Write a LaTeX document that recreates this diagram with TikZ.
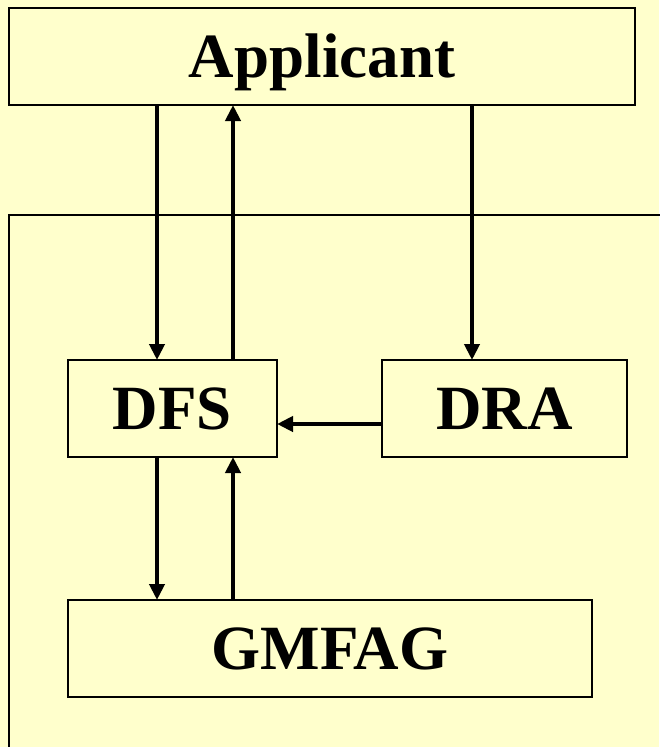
\documentclass[tikz,border=0pt]{standalone}
\usepackage{fontspec}
\setmainfont{Liberation Serif}
\usetikzlibrary{arrows.meta}
\definecolor{bg}{HTML}{FFFFCC}
\begin{document}
\begin{tikzpicture}[x=1pt,y=-1pt,
  box/.style={draw=black,line width=2pt,fill=bg,rectangle,inner sep=0pt,outer sep=0pt,
    text height=41.7pt,text depth=0pt,
    font=\fontsize{63}{70}\selectfont\bfseries},
  arr/.style={line width=4pt,-{Triangle[width=15pt,length=16pt]}}]
\fill[bg] (0,0) rectangle (659,747);
\useasboundingbox (0,0) rectangle (659,747);
% container
\coordinate (cb) at (9,748);
\coordinate (ctl) at (9,215);
\coordinate (ctr) at (660,215);
\draw[line width=2pt] (cb) -- (ctl) -- (ctr);
% boxes
\node[box,minimum width=626pt,minimum height=97pt] (app) at (322,56.5) {Applicant};
\node[box,minimum width=209pt,minimum height=97pt] (dfs) at (172.5,408.5) {DFS};
\node[box,minimum width=245pt,minimum height=97pt] (dra) at (504.5,408.5) {DRA};
\node[box,minimum width=524pt,minimum height=97pt] (gm) at (330,648.5) {GMFAG};
% x positions
\coordinate (xl) at (157,0);
\coordinate (xr) at (233,0);
\coordinate (xa) at (472,0);
\coordinate (yh) at (0,424);
% arrows
\draw[arr] (app.south -| xl) -- (dfs.north -| xl);
\draw[arr] (dfs.north -| xr) -- (app.south -| xr);
\draw[arr] (app.south -| xa) -- (dra.north -| xa);
\draw[arr] (dra.west |- yh) -- (dfs.east |- yh);
\draw[arr] (dfs.south -| xl) -- (gm.north -| xl);
\draw[arr] (gm.north -| xr) -- (dfs.south -| xr);
\end{tikzpicture}
\end{document}
